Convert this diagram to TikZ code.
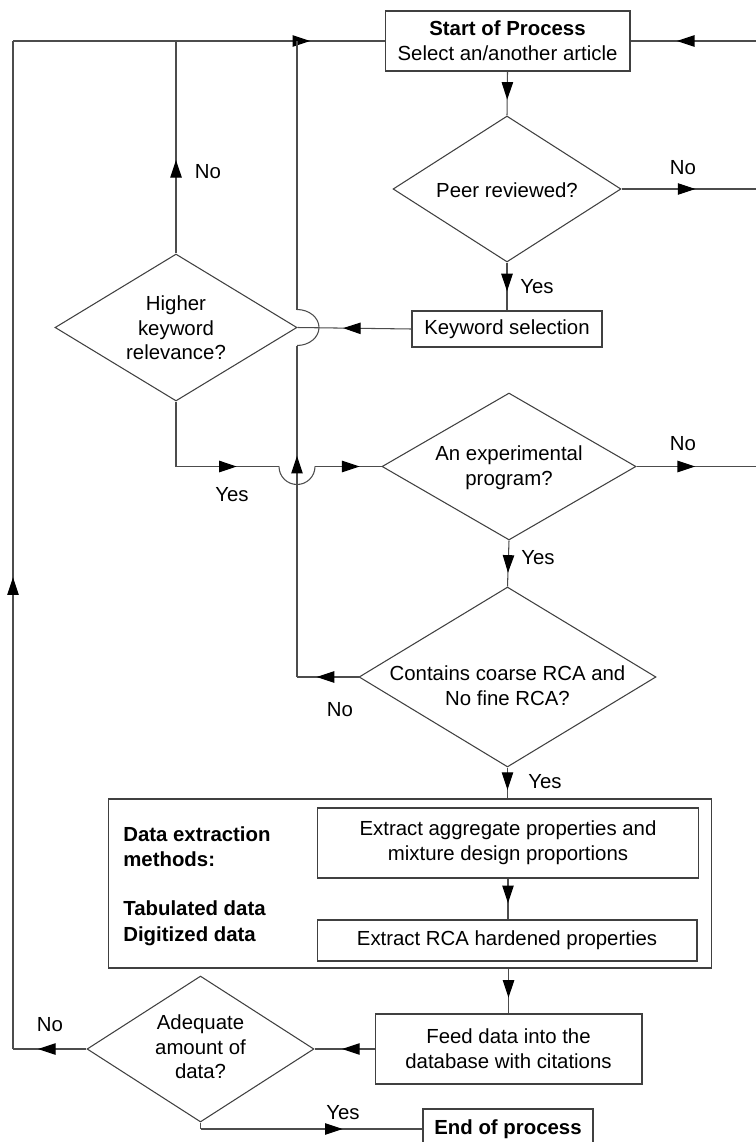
\documentclass[tikz,border=0pt]{standalone}
\usepackage{fontspec}
\setmainfont{Liberation Sans}
\usetikzlibrary{shapes.geometric,arrows.meta,decorations.markings}
\tikzset{
 every node/.style={font=\fontsize{11.6}{14}\selectfont},
 box/.style={draw=black!75, line width=0.6pt, rectangle, inner sep=0pt, align=center},
 dia/.style={draw=black!75, line width=0.6pt, diamond, inner sep=0pt},
 lbl/.style={inner sep=0pt, align=center},
 conn/.style={draw=black!70, line width=0.6pt},
 arrowat/.style={postaction={decorate, decoration={markings, mark=at position #1 with {\arrow[black]{Triangle[length=10pt,width=6.5pt]}}}}},
}
\begin{document}
\begin{tikzpicture}[x=0.02cm,y=-0.02cm]
\clip (0,0) rectangle (756,1142);
\fill[white] (0,0) rectangle (756,1142);

% nodes
\node[box, minimum width=4.9cm, minimum height=1.2cm] (start) at (507.5,41) {\textbf{Start of Process}\\Select an/another article};
\node[dia, minimum width=4.56cm, minimum height=2.92cm] (peer) at (507,189) {};
\node[lbl] (peerT) at (507,190) {Peer reviewed?};
\node[box, minimum width=3.8cm, minimum height=0.72cm] (kw) at (507,329) {Keyword selection};
\node[dia, minimum width=4.84cm, minimum height=2.94cm] (higher) at (176,327.5) {};
\node[lbl] (higherT) at (176,328) {Higher\\keyword\\relevance?};
\node[dia, minimum width=5.08cm, minimum height=2.94cm] (exp) at (509,466.5) {};
\node[lbl] (expT) at (509,467.5) {An experimental\\program?};
\node[dia, minimum width=5.94cm, minimum height=3.6cm] (contains) at (507.5,677) {};
\node[lbl] (containsT) at (507.5,685.5) {Contains coarse RCA and\\No fine RCA?};
\node[box, minimum width=12.08cm, minimum height=3.38cm] (outer) at (410,883.5) {};
\node[lbl, anchor=west, align=left, font=\bfseries\fontsize{11.6}{14.7}\selectfont] (methods) at (123,886) {Data extraction\\methods:\\[13pt]Tabulated data\\Digitized data};
\node[box, minimum width=7.64cm, minimum height=1.4cm] (ex1) at (508,843) {Extract aggregate properties and\\mixture design proportions};
\node[box, minimum width=7.6cm, minimum height=0.82cm] (ex2) at (507,940.5) {Extract RCA hardened properties};
\node[box, minimum width=5.34cm, minimum height=1.4cm] (feed) at (508.5,1049) {Feed data into the\\database with citations};
\node[dia, minimum width=4.54cm, minimum height=2.92cm] (adeq) at (200.5,1049) {};
\node[lbl] (adeqT) at (200.5,1047) {Adequate\\amount of\\data?};
\node[box, minimum width=3.4cm, minimum height=0.8cm] (end) at (508,1129) {\textbf{End of process}};

% coordinates
\coordinate (tl) at (13,41);
\coordinate (bl) at (13,1049);
\coordinate (hn) at (176,41);
\coordinate (vx) at (297,41);
\coordinate (vb) at (297,677);
\coordinate (j1b) at (297,345.5);
\coordinate (j1t) at (297,309.5);
\coordinate (yc) at (176,466.5);
\coordinate (j2l) at (279,466.5);
\coordinate (j2r) at (315,466.5);
\coordinate (r1) at (756,41);
\coordinate (r2) at (756,189);
\coordinate (r3) at (756,466.5);
\coordinate (ay) at (200.5,1129);

% connectors
\draw[conn, arrowat=0.63] (r1) -- (start.east);
\draw[conn, arrowat=0.64] (start.south) -- (peer.north);
\draw[conn, arrowat=0.55] (peer.east) -- (r2);
\draw[conn, arrowat=0.6] (peer.south) -- (kw.north);
\draw[conn, arrowat=0.6] (kw.west) -- (higher.east);
\draw[conn, arrowat=0.44] (higher.north) -- (hn);
\draw[conn, arrowat=0.66] (adeq.west) -- (bl);
\draw[conn, arrowat=0.468] (bl) -- (tl);
\draw[conn, arrowat=0.80] (tl) -- (start.west);
\draw[conn] (higher.south) -- (yc);
\draw[conn, arrowat=0.59] (yc) -- (j2l);
\draw[conn] (j2l) arc[start angle=180, end angle=360, radius=0.36cm];
\draw[conn, arrowat=0.67] (j2r) -- (exp.west);
\draw[conn, arrowat=0.68] (contains.west) -- (vb);
\draw[conn, arrowat=0.667] (vb) -- (j1b);
\draw[conn] (j1b) arc[start angle=-90, end angle=90, x radius=0.44cm, y radius=0.36cm];
\draw[conn] (j1t) -- (vx);
\draw[conn, arrowat=0.49] (exp.east) -- (r3);
\draw[conn, arrowat=0.7] (exp.south) -- (contains.north);
\draw[conn, arrowat=0.72] (contains.south) -- (contains.south |- outer.north);
\draw[conn, arrowat=0.6] (ex1.south) -- (ex1.south |- ex2.north);
\draw[conn, arrowat=0.65] (outer.south -| feed.north) -- (feed.north);
\draw[conn, arrowat=0.54] (feed.west) -- (adeq.east);
\draw[conn] (adeq.south) -- (ay);
\draw[conn, arrowat=0.64] (ay) -- (end.west);

% labels
\node[lbl] (lNo1) at (208,172) {No};
\node[lbl] (lNo2) at (683,168) {No};
\node[lbl] (lYes1) at (537,287) {Yes};
\node[lbl] (lNo3) at (683,444) {No};
\node[lbl] (lYes2) at (232,495) {Yes};
\node[lbl] (lYes3) at (538,558) {Yes};
\node[lbl] (lNo4) at (340,710) {No};
\node[lbl] (lYes4) at (545,782) {Yes};
\node[lbl] (lNo5) at (50,1025) {No};
\node[lbl] (lYes5) at (343,1113) {Yes};
\end{tikzpicture}
\end{document}
